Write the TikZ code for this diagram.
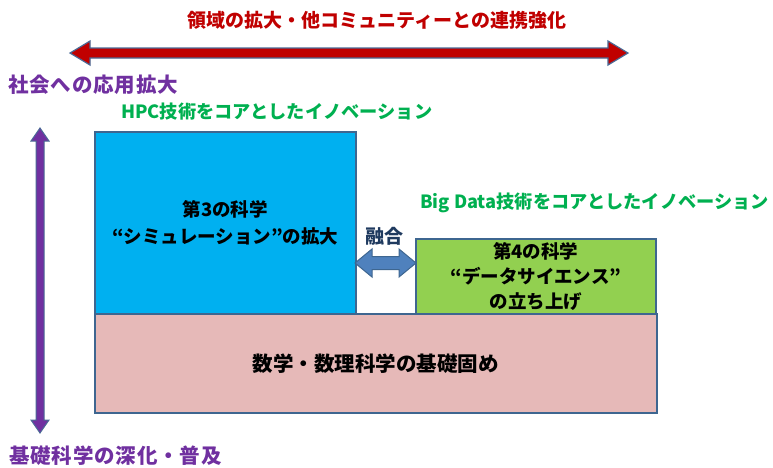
\documentclass[tikz,border=0pt]{standalone}
\usepackage{fontspec}
\newfontfamily\jp{Noto Sans CJK JP}
\newfontfamily\jpwide{Noto Sans CJK JP}[LetterSpace=4]
\definecolor{titlered}{HTML}{C00000}
\definecolor{arrowline}{HTML}{4A6A96}
\definecolor{purp}{HTML}{7030A0}
\definecolor{grn}{HTML}{00B050}
\definecolor{boxline}{HTML}{3E6690}
\definecolor{hpcblue}{HTML}{00B0F0}
\definecolor{dsgreen}{HTML}{92D050}
\definecolor{basepink}{HTML}{E6B9B8}
\definecolor{fusearrow}{HTML}{4F81BD}
\definecolor{navy}{HTML}{1F3A5F}
\newcommand\hdarrow[7]{% x1 x2 y bodyhalf headhalf headlen style
  \draw[#7] (#1,#3) -- (#1+#6,#3-#5) -- (#1+#6,#3-#4) -- (#2-#6,#3-#4) -- (#2-#6,#3-#5)
    -- (#2,#3) -- (#2-#6,#3+#5) -- (#2-#6,#3+#4) -- (#1+#6,#3+#4) -- (#1+#6,#3+#5) -- cycle;}
\newcommand\vdarrow[7]{% y1 y2 x bodyhalf headhalf headlen style
  \draw[#7] (#3,#1) -- (#3-#5,#1+#6) -- (#3-#4,#1+#6) -- (#3-#4,#2-#6) -- (#3-#5,#2-#6)
    -- (#3,#2) -- (#3+#5,#2-#6) -- (#3+#4,#2-#6) -- (#3+#4,#1+#6) -- (#3+#5,#1+#6) -- cycle;}
\tikzset{
  every node/.style={inner sep=0pt},
  box/.style={draw=boxline, line width=1.6pt, anchor=north west, align=center,
    font=\jp\bfseries\fontsize{18.5}{27}\selectfont, text=black},
  titletxt/.style={text=titlered, font=\jp\bfseries\fontsize{19}{19}\selectfont},
  purptxt/.style={text=purp, font=\jpwide\bfseries\fontsize{20.5}{20.5}\selectfont, anchor=west},
  grntxt/.style={text=grn, font=\jp\bfseries\fontsize{18.2}{18.2}\selectfont, anchor=west},
  fusetxt/.style={text=navy, font=\jp\bfseries\fontsize{19}{19}\selectfont},
}
\begin{document}
\begin{tikzpicture}[x=1pt,y=-1pt]
\useasboundingbox (0,0) rectangle (773,467);
% title and arrow
\node[titletxt] (title) at (377,20) {領域の拡大・他コミュニティーとの連携強化};
\hdarrow{70}{628}{53}{5}{12}{20}{fill=titlered, draw=arrowline, line width=1.2pt, line join=miter}
% vertical axis
\node[purptxt] (soc) at (8,85) {社会への応用拡大};
\node[purptxt] (basic) at (9,456) {基礎科学の深化・普及};
\vdarrow{128}{433}{40}{4}{9}{13}{fill=purp, draw=arrowline, line width=1pt}
% labels
\node[grntxt] (hpclab) at (121,112) {HPC技術をコアとしたイノベーション};
\node[grntxt] (bdlab) at (420,203) {Big Data技術をコアとしたイノベーション};
% boxes
\node[box, fill=hpcblue, minimum width=261, minimum height=182] (hpc) at (94,131)
  {第3の科学\\“シミュレーション”の拡大};
\node[box, fill=dsgreen, minimum width=240, minimum height=75,
  font=\jp\bfseries\fontsize{18.5}{25}\selectfont] (ds) at (415,238)
  {第4の科学\\“データサイエンス”\\の立ち上げ};
\node[box, fill=basepink, minimum width=562, minimum height=99,
  font=\jp\bfseries\fontsize{20.5}{20.5}\selectfont] (base) at (94,313)
  {数学・数理科学の基礎固め};
% fusion
\node[fusetxt] (fuse) at (384,236) {融合};
\hdarrow{355}{416}{263}{6.5}{14}{17}{fill=fusearrow, draw=boxline, line width=1pt}
\end{tikzpicture}
\end{document}
